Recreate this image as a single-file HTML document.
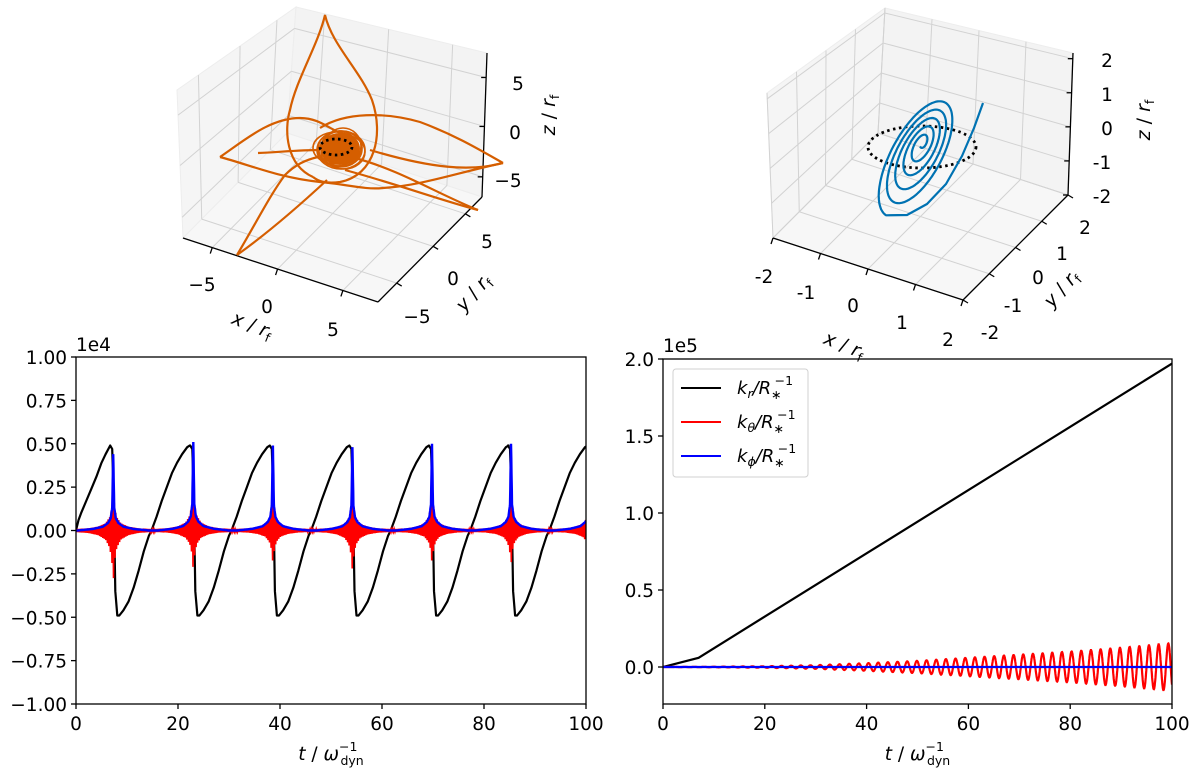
<!DOCTYPE html>
<html><head><meta charset="utf-8"><style>
html,body{margin:0;padding:0;background:#fff;}
svg{display:block;font-family:"DejaVu Sans","Liberation Sans",sans-serif;}
</style></head><body>
<svg id="fig" width="1200" height="772" viewBox="0 0 1200 772" xmlns="http://www.w3.org/2000/svg">
<g id="tl"></g>
<g id="tr"></g>
<g id="bl"></g>
<g id="br"></g>
</svg>
<script>
// ---------- bottom-left data (units 1e4) ----------
const spikeTimes=[7.3,23.0,38.6,54.2,69.8,85.3,100.9];
const startT=[0,0.5,1,2,3,4,5,5.8];
const startV=[0,0.06,0.1,0.17,0.24,0.31,0.39,0.44];
const cyclePhase=[-0.6,-0.2,0.1,0.4,0.8,1.2,2,3,4,5,6,7,7.5,8.5,9.5,10.5,11.5,12.5,13.5,14.5,15.0];
const cycleVal=[0.49,0.47,0.2,-0.35,-0.49,-0.49,-0.46,-0.41,-0.33,-0.23,-0.12,-0.03,0.0,0.08,0.17,0.25,0.33,0.39,0.44,0.48,0.49];
const phiDt=[-7,-4,-2,-1,-0.5,-0.2,0,0.2,0.5,1,2,4,7];
const phiShape=[0,0.02,0.05,0.1,0.16,0.3,1,0.3,0.16,0.1,0.05,0.02,0];
const phiPeak=[0.44,0.51,0.49,0.48,0.50,0.50,0.50];
const redNeg=[-0.29,-0.22,-0.18,-0.23,-0.18,-0.19,-0.19];
const redPos=[0.22,0.25,0.20,0.21,0.22,0.21,0.21];
const redDt=[0,0.3,0.7,1.5,3,5,8];
const redEnv=[1,0.55,0.32,0.16,0.07,0.025,0.005];
const blYTicks=[1.0,0.75,0.5,0.25,0,-0.25,-0.5,-0.75,-1.0];
const blYLabels=["1.00","0.75","0.50","0.25","0.00","\u22120.25","\u22120.50","\u22120.75","\u22121.00"];
const xTicks=[0,20,40,60,80,100];
// ---------- bottom-right data (units 1e5) ----------
const krT=[0,3,7,20,40,60,80,100];
const krV=[0,0.025,0.06,0.327,0.738,1.149,1.56,1.97];
const thT=[0,10,20,30,40,50,60,70,80,90,100];
const thA=[0,0.002,0.005,0.012,0.025,0.04,0.06,0.08,0.10,0.125,0.155];
const thPeriod=1.9;
const phT=[0,100];
const phV=[0,0];
const brYTicks=[0,0.5,1.0,1.5,2.0];
const brYLabels=["0.0","0.5","1.0","1.5","2.0"];

const FS=18.5;
const NS="http://www.w3.org/2000/svg";
function mk(parent,tag,attrs,txt){const e=document.createElementNS(NS,tag);for(const k in attrs)e.setAttribute(k,attrs[k]);if(txt!==undefined)e.textContent=txt;parent.appendChild(e);return e;}
function interp(xs,ys,x){if(x<=xs[0])return ys[0];if(x>=xs[xs.length-1])return ys[ys.length-1];for(let i=1;i<xs.length;i++){if(x<=xs[i]){const f=(x-xs[i-1])/(xs[i]-xs[i-1]);return ys[i-1]+f*(ys[i]-ys[i-1]);}}}
function lerp(a,b,f){return [a[0]+(b[0]-a[0])*f,a[1]+(b[1]-a[1])*f];}
function xtitle(g,x){const xl=mk(g,'text',{x:x,y:760,'text-anchor':'middle','font-size':FS});
xl.innerHTML='<tspan font-style="italic">t</tspan> / <tspan font-style="italic">ω</tspan><tspan font-size="12.5" dy="-9">−1</tspan><tspan font-size="12.5" dx="-17" dy="14">dyn</tspan>';return xl;}

// ======== bottom-left ========
(function(){
const g=document.getElementById('bl');
const X0=76,X1=586,Y0=357,Y1=704;
const sx=t=>X0+(t/100)*(X1-X0);
const sy=v=>Y0+(1-v)/2*(Y1-Y0);
const cp=mk(g,'clipPath',{id:'clipbl'});mk(cp,'rect',{x:X0,y:Y0,width:X1-X0,height:Y1-Y0});
let pts=[];
for(let i=0;i<startT.length;i++)pts.push([startT[i],startV[i]]);
spikeTimes.forEach(ts=>{cyclePhase.forEach((p,j)=>{const t=ts+p;if(t>=6.0&&t<=100.5)pts.push([t,cycleVal[j]]);});});
const kr=mk(g,'path',{d:'M'+pts.map(p=>sx(p[0]).toFixed(1)+','+sy(p[1]).toFixed(1)).join('L'),fill:'none',stroke:'#000','stroke-width':2.2,'stroke-linejoin':'round','clip-path':'url(#clipbl)'});


let rd=[];let s=1;
for(let t=0;t<=100;t+=0.15){let v=0;spikeTimes.forEach((ts,k)=>{const e=interp(redDt,redEnv,Math.abs(t-ts));v+= s>0? e*redPos[k]: e*redNeg[k];});rd.push(sx(t).toFixed(1)+','+sy(v).toFixed(1));s=-s;}
const kt=mk(g,'path',{d:'M'+rd.join('L'),fill:'none',stroke:'#ff0000','stroke-width':1.6,'clip-path':'url(#clipbl)'});


let bp=[];
for(let t=0;t<=100.001;t+=0.05){let v=0;spikeTimes.forEach((ts,k)=>{v+=interp(phiDt,phiShape,t-ts)*phiPeak[k];});bp.push(sx(t).toFixed(1)+','+sy(v).toFixed(1));}
const kp=mk(g,'path',{d:'M'+bp.join('L'),fill:'none',stroke:'#0000ff','stroke-width':2.4,'clip-path':'url(#clipbl)'});


const fr=mk(g,'rect',{x:X0,y:Y0,width:X1-X0,height:Y1-Y0,fill:'none',stroke:'#000','stroke-width':1.3});


blYTicks.forEach((v,i)=>{const y=sy(v);mk(g,'line',{x1:X0-5,x2:X0,y1:y,y2:y,stroke:'#000','stroke-width':1.3});
const tx=mk(g,'text',{x:X0-9,y:y+7,'text-anchor':'end','font-size':FS},blYLabels[i]);

});
xTicks.forEach(v=>{const x=sx(v);mk(g,'line',{x1:x,x2:x,y1:Y1,y2:Y1+5,stroke:'#000','stroke-width':1.3});
const tx=mk(g,'text',{x:x,y:Y1+26,'text-anchor':'middle','font-size':FS},String(v));

});
const of=mk(g,'text',{x:X0,y:Y0-6,'font-size':FS},'1e4');


const xl=xtitle(g,(X0+X1)/2);


})();

// ======== bottom-right ========
(function(){
const g=document.getElementById('br');
const X0=663,X1=1172,Y0=359,Y1=704;
const sx=t=>X0+(t/100)*(X1-X0);
const sy=v=>667-v*154;
const cp=mk(g,'clipPath',{id:'clipbr'});mk(cp,'rect',{x:X0,y:Y0,width:X1-X0,height:Y1-Y0});
const kr=mk(g,'path',{d:'M'+krT.map((t,i)=>sx(t).toFixed(1)+','+sy(krV[i]).toFixed(1)).join('L'),fill:'none',stroke:'#000','stroke-width':2.2,'clip-path':'url(#clipbr)'});


let rd=[];
for(let t=0;t<=100.001;t+=0.05){const a=interp(thT,thA,t);rd.push(sx(t).toFixed(1)+','+sy(a*Math.sin(2*Math.PI*t/thPeriod)).toFixed(1));}
const kt=mk(g,'path',{d:'M'+rd.join('L'),fill:'none',stroke:'#ff0000','stroke-width':2.2,'clip-path':'url(#clipbr)'});


const kp=mk(g,'path',{d:'M'+phT.map((t,i)=>sx(t)+','+sy(phV[i])).join('L'),fill:'none',stroke:'#0000ff','stroke-width':2.2,'clip-path':'url(#clipbr)'});


const fr=mk(g,'rect',{x:X0,y:Y0,width:X1-X0,height:Y1-Y0,fill:'none',stroke:'#000','stroke-width':1.3});


brYTicks.forEach((v,i)=>{const y=sy(v);mk(g,'line',{x1:X0-5,x2:X0,y1:y,y2:y,stroke:'#000','stroke-width':1.3});
const tx=mk(g,'text',{x:X0-9,y:y+7,'text-anchor':'end','font-size':FS},brYLabels[i]);

});
xTicks.forEach(v=>{const x=sx(v);mk(g,'line',{x1:x,x2:x,y1:Y1,y2:Y1+5,stroke:'#000','stroke-width':1.3});
const tx=mk(g,'text',{x:x,y:Y1+26,'text-anchor':'middle','font-size':FS},String(v));

});
const of=mk(g,'text',{x:X0,y:Y0-7,'font-size':FS},'1e5');


const xl=xtitle(g,(X0+X1)/2);


const lg=mk(g,'g',{});


mk(lg,'rect',{x:673,y:369,width:135,height:108,rx:3,fill:'#fff','fill-opacity':0.85,stroke:'#d0d0d0','stroke-width':1});
const cols=['#000','#ff0000','#0000ff'];const subs=['r','θ','ϕ'];const names=['legend-entry-kr','legend-entry-ktheta','legend-entry-kphi'];
[388,422,456].forEach((y,i)=>{const e=mk(lg,'g',{});


mk(e,'line',{x1:681,x2:721,y1:y,y2:y,stroke:cols[i],'stroke-width':2});
const t=mk(e,'text',{x:737,y:y+6,'font-size':18,'font-style':'italic'});
t.innerHTML='k<tspan font-size="12.5" dy="4">'+subs[i]+'</tspan><tspan dy="-4">/R</tspan><tspan font-size="12.5" dy="5">∗</tspan><tspan font-size="12.5" dx="-7" dy="-14" font-style="normal">−1</tspan>';});
})();

// ======== 3D panels ========
function tri(c,fx,fy,fz){const b=lerp(lerp(c.L,c.F,fx),lerp(c.B,c.R,fx),fy);const t=lerp(lerp(c.Lt,c.Ft,fx),lerp(c.Bt,c.Rt,fx),fy);return lerp(b,t,fz);}
function draw3d(g,c,xf,yf,zf){
const P=(a,b,d)=>tri(c,a,b,d);
const poly=ps=>ps.map(p=>p[0].toFixed(1)+','+p[1].toFixed(1)).join(' ');
const pl=mk(g,'polygon',{points:poly([P(0,0,0),P(0,1,0),P(0,1,1),P(0,0,1)]),fill:'#f5f5f5',stroke:'#ededed'});


const pr=mk(g,'polygon',{points:poly([P(0,1,0),P(1,1,0),P(1,1,1),P(0,1,1)]),fill:'#f3f3f3',stroke:'#ededed'});


const pf=mk(g,'polygon',{points:poly([P(0,0,0),P(1,0,0),P(1,1,0),P(0,1,0)]),fill:'#f7f7f7',stroke:'#ededed'});


const gl=(a,b)=>mk(g,'line',{x1:a[0],y1:a[1],x2:b[0],y2:b[1],stroke:'#d2d2d2','stroke-width':1});
xf.forEach(f=>{gl(P(f,0,0),P(f,1,0));gl(P(f,1,0),P(f,1,1));});
yf.forEach(f=>{gl(P(0,f,0),P(1,f,0));gl(P(0,f,0),P(0,f,1));});
zf.forEach(f=>{gl(P(0,0,f),P(0,1,f));gl(P(0,1,f),P(1,1,f));});
const al=(a,b)=>mk(g,'line',{x1:a[0],y1:a[1],x2:b[0],y2:b[1],stroke:'#000','stroke-width':1.3});
al(P(0,0,0),P(1,0,0));al(P(1,0,0),P(1,1,0));al(P(1,1,0),P(1,1,1));
xf.forEach(f=>{const a=P(f,0,0);al(a,[a[0]-2,a[1]+6]);});
yf.forEach(f=>{const a=P(1,f,0);al(a,[a[0]+5,a[1]+3]);});
zf.forEach(f=>{const a=P(1,1,f);al(a,[a[0]-5,a[1]]);});
}
function lab(g,x,y,s,name){const t=mk(g,'text',{x:x,y:y,'text-anchor':'middle','font-size':FS},s);

return t;}
function rf(g,x,y,ax,rot){const t=mk(g,'text',{x:x,y:y,'text-anchor':'middle','font-size':19,transform:'rotate('+rot+' '+x+' '+y+')'});
t.innerHTML='<tspan font-style="italic">'+ax+'</tspan> / <tspan font-style="italic">r</tspan><tspan font-size="12.5" dy="4">f</tspan>';

}

// top-left
(function(){
const g=document.getElementById('tl');
const c={L:[183,238],F:[378,302],B:[287,133],R:[482,197],Lt:[177,90],Bt:[296,7],Rt:[487,53],Ft:[368,136]};
draw3d(g,c,[0.15,0.485,0.82],[0.18,0.53,0.84],[0.14,0.49,0.83]);
[['\u22125',202,291],['0',267,313],['5',333,336]].forEach(a=>lab(g,a[1],a[2],a[0],'x-tick-label-3d'));
[['5',487,248],['0',453,285],['\u22125',417,323]].forEach(a=>lab(g,a[1],a[2],a[0],'y-tick-label-3d'));
[['5',518,90],['0',515,139],['\u22125',508,187]].forEach(a=>lab(g,a[1],a[2],a[0],'z-tick-label-3d'));
rf(g,250,331,'x',22);rf(g,478,297,'y',-48);rf(g,555,115,'z',-90);
const O='#d55e00';
const tr=mk(g,'g',{fill:'none',stroke:O,'stroke-width':2.2});


const paths=[
'M313,177 C286,165 284,130 290,110 C296,80 318,45 325,15 C332,45 360,70 372,100 C384,135 375,175 340,182 C325,184 318,181 313,177',
'M220,157 C245,140 270,118 300,118 C320,118 330,130 345,135',
'M320,128 C345,112 385,112 420,122 C455,135 480,150 503,163',
'M220,157 C250,165 280,178 320,182 C345,184 365,190 383,188 C420,186 460,172 503,163',
'M503,163 C470,172 430,168 370,150',
'M478,210 C440,195 400,170 355,158',
'M478,210 C440,200 400,185 345,170',
'M258,153 C280,152 300,150 320,150',
'M237,255 C255,225 270,195 285,175 C295,165 305,160 318,157',
'M237,255 C265,235 300,205 327,180'
];
paths.forEach(d=>mk(tr,'path',{d:d}));
mk(g,'ellipse',{cx:340,cy:149,rx:20,ry:16,fill:O});
const blob=[[0,0,22,18],[2,-2,20,16],[-3,2,18,15],[4,3,21,17],[-1,-4,17,14],[1,1,24,19],[0,4,19,13],[-4,-1,23,16],[3,-3,18,18]];
blob.forEach(b=>mk(tr,'ellipse',{cx:340+b[0],cy:149+b[1],rx:b[2],ry:b[3],'stroke-width':1.6}));
const dz=mk(g,'ellipse',{cx:336,cy:147,rx:16,ry:8,fill:'none',stroke:'#000','stroke-width':2.8,'stroke-dasharray':'2.5 3.5'});


})();

// top-right
(function(){
const g=document.getElementById('tr');
const c={L:[773,238],F:[963,300],B:[878,133],R:[1068,195],Lt:[767,93],Bt:[885,8],Rt:[1073,53],Ft:[955,138]};
draw3d(g,c,[0,0.25,0.5,0.75,1],[0,0.25,0.5,0.75,1],[0,0.24,0.48,0.72,0.96]);
[['-2',764,283],['-1',806,299],['0',853,312],['1',902,329],['2',948,346]].forEach(a=>lab(g,a[1],a[2],a[0],'x-tick-label-3d'));
[['2',1085,234],['1',1062,260],['0',1038,284],['-1',1013,312],['-2',990,339]].forEach(a=>lab(g,a[1],a[2],a[0],'y-tick-label-3d'));
[['2',1107,67],['1',1107,101],['0',1107,135],['-1',1102,169],['-2',1102,203]].forEach(a=>lab(g,a[1],a[2],a[0],'z-tick-label-3d'));
rf(g,842,351,'x',22);rf(g,1066,293,'y',-48);rf(g,1150,120,'z',-90);
const dz=mk(g,'ellipse',{cx:922,cy:147,rx:54,ry:21,fill:'none',stroke:'#000','stroke-width':2.8,'stroke-dasharray':'2.5 3.5'});


let pts=['983,103','974,128','962,156','946,184','927,204','907,215'];
const turns=5.0,N=700;
for(let i=0;i<=N;i++){const f=i/N;const th=Math.PI+f*turns*2*Math.PI;const a=66*(1-f*0.94),b=27*(1-f*0.9);
const cx=917+5*f,cy=157-14*f;const rot=-62*Math.PI/180;
const u=a*Math.cos(th),v=b*Math.sin(th);
pts.push((cx+u*Math.cos(rot)-v*Math.sin(rot)).toFixed(1)+','+(cy+u*Math.sin(rot)+v*Math.cos(rot)).toFixed(1));}
const sp=mk(g,'path',{d:'M'+pts.join('L'),fill:'none',stroke:'#0072b2','stroke-width':2.2,'stroke-linejoin':'round'});


})();
</script>
</body></html>
